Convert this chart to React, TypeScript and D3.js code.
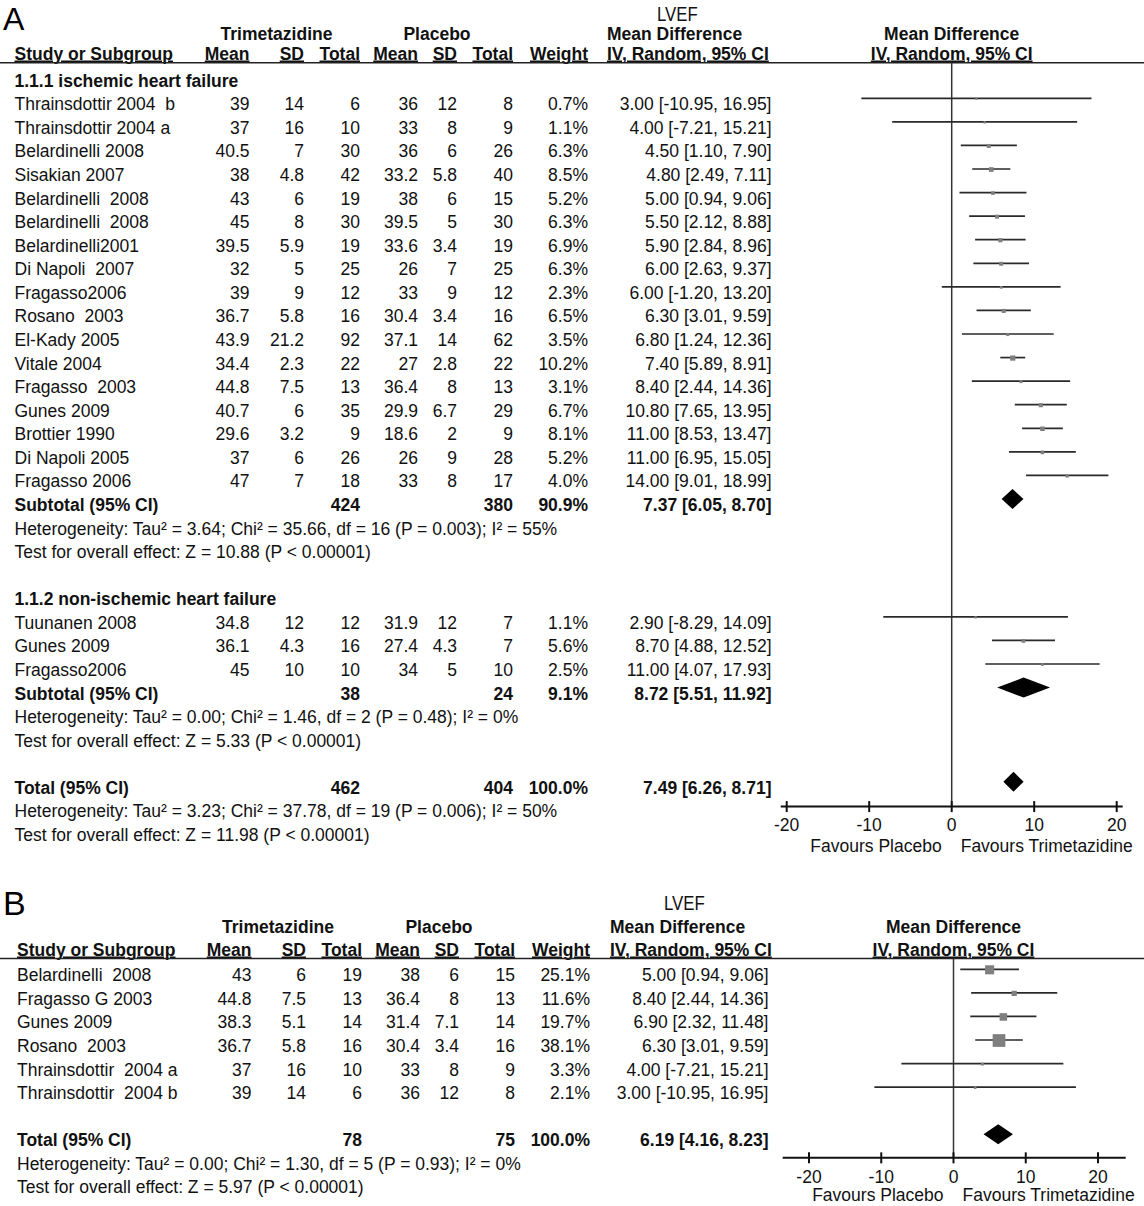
import React from "react";
import * as d3 from "d3";

const FONT = "'Liberation Sans', Arial, Helvetica, sans-serif";

// ---------- Panel A : subgroup 1.1.1 ----------
const A1_TITLE = "1.1.1 ischemic heart failure";
const A1_STUDIES = ["Thrainsdottir 2004  b", "Thrainsdottir 2004 a", "Belardinelli 2008", "Sisakian 2007", "Belardinelli  2008", "Belardinelli  2008", "Belardinelli2001", "Di Napoli  2007", "Fragasso2006", "Rosano  2003", "El-Kady 2005", "Vitale 2004", "Fragasso  2003", "Gunes 2009", "Brottier 1990", "Di Napoli 2005", "Fragasso 2006"];
const A1_T_MEAN = [39, 37, 40.5, 38, 43, 45, 39.5, 32, 39, 36.7, 43.9, 34.4, 44.8, 40.7, 29.6, 37, 47];
const A1_T_SD = [14, 16, 7, 4.8, 6, 8, 5.9, 5, 9, 5.8, 21.2, 2.3, 7.5, 6, 3.2, 6, 7];
const A1_T_N = [6, 10, 30, 42, 19, 30, 19, 25, 12, 16, 92, 22, 13, 35, 9, 26, 18];
const A1_P_MEAN = [36, 33, 36, 33.2, 38, 39.5, 33.6, 26, 33, 30.4, 37.1, 27, 36.4, 29.9, 18.6, 26, 33];
const A1_P_SD = [12, 8, 6, 5.8, 6, 5, 3.4, 7, 9, 3.4, 14, 2.8, 8, 6.7, 2, 9, 8];
const A1_P_N = [8, 9, 26, 40, 15, 30, 19, 25, 12, 16, 62, 22, 13, 29, 9, 28, 17];
const A1_WEIGHT = [0.7, 1.1, 6.3, 8.5, 5.2, 6.3, 6.9, 6.3, 2.3, 6.5, 3.5, 10.2, 3.1, 6.7, 8.1, 5.2, 4.0];
const A1_MD = [3.0, 4.0, 4.5, 4.8, 5.0, 5.5, 5.9, 6.0, 6.0, 6.3, 6.8, 7.4, 8.4, 10.8, 11.0, 11.0, 14.0];
const A1_LO = [-10.95, -7.21, 1.1, 2.49, 0.94, 2.12, 2.84, 2.63, -1.2, 3.01, 1.24, 5.89, 2.44, 7.65, 8.53, 6.95, 9.01];
const A1_HI = [16.95, 15.21, 7.9, 7.11, 9.06, 8.88, 8.96, 9.37, 13.2, 9.59, 12.36, 8.91, 14.36, 13.95, 13.47, 15.05, 18.99];
const A1_SUB = { tN: 424, pN: 380, w: 90.9, md: 7.37, lo: 6.05, hi: 8.7 };
const A1_HET = "Heterogeneity: Tau² = 3.64; Chi² = 35.66, df = 16 (P = 0.003); I² = 55%";
const A1_TEST = "Test for overall effect: Z = 10.88 (P < 0.00001)";

// ---------- Panel A : subgroup 1.1.2 ----------
const A2_TITLE = "1.1.2 non-ischemic heart failure";
const A2_STUDIES = ["Tuunanen 2008", "Gunes 2009", "Fragasso2006"];
const A2_T_MEAN = [34.8, 36.1, 45];
const A2_T_SD = [12, 4.3, 10];
const A2_T_N = [12, 16, 10];
const A2_P_MEAN = [31.9, 27.4, 34];
const A2_P_SD = [12, 4.3, 5];
const A2_P_N = [7, 7, 10];
const A2_WEIGHT = [1.1, 5.6, 2.5];
const A2_MD = [2.9, 8.7, 11.0];
const A2_LO = [-8.29, 4.88, 4.07];
const A2_HI = [14.09, 12.52, 17.93];
const A2_SUB = { tN: 38, pN: 24, w: 9.1, md: 8.72, lo: 5.51, hi: 11.92 };
const A2_HET = "Heterogeneity: Tau² = 0.00; Chi² = 1.46, df = 2 (P = 0.48); I² = 0%";
const A2_TEST = "Test for overall effect: Z = 5.33 (P < 0.00001)";

const A_TOTAL = { tN: 462, pN: 404, w: 100.0, md: 7.49, lo: 6.26, hi: 8.71 };
const A_HET = "Heterogeneity: Tau² = 3.23; Chi² = 37.78, df = 19 (P = 0.006); I² = 50%";
const A_TEST = "Test for overall effect: Z = 11.98 (P < 0.00001)";

// ---------- Panel B ----------
const B_STUDIES = ["Belardinelli  2008", "Fragasso G 2003", "Gunes 2009", "Rosano  2003", "Thrainsdottir  2004 a", "Thrainsdottir  2004 b"];
const B_T_MEAN = [43, 44.8, 38.3, 36.7, 37, 39];
const B_T_SD = [6, 7.5, 5.1, 5.8, 16, 14];
const B_T_N = [19, 13, 14, 16, 10, 6];
const B_P_MEAN = [38, 36.4, 31.4, 30.4, 33, 36];
const B_P_SD = [6, 8, 7.1, 3.4, 8, 12];
const B_P_N = [15, 13, 14, 16, 9, 8];
const B_WEIGHT = [25.1, 11.6, 19.7, 38.1, 3.3, 2.1];
const B_MD = [5.0, 8.4, 6.9, 6.3, 4.0, 3.0];
const B_LO = [0.94, 2.44, 2.32, 3.01, -7.21, -10.95];
const B_HI = [9.06, 14.36, 11.48, 9.59, 15.21, 16.95];
const B_TOTAL = { tN: 78, pN: 75, w: 100.0, md: 6.19, lo: 4.16, hi: 8.23 };
const B_HET = "Heterogeneity: Tau² = 0.00; Chi² = 1.30, df = 5 (P = 0.93); I² = 0%";
const B_TEST = "Test for overall effect: Z = 5.97 (P < 0.00001)";

const AXIS_TICKS = [-20, -10, 0, 10, 20];
const FAV_LEFT = "Favours Placebo";
const FAV_RIGHT = "Favours Trimetazidine";

type Row =
  | { kind: "title"; i: number; text: string }
  | { kind: "text"; i: number; text: string }
  | { kind: "study"; i: number; name: string; tm: number; ts: number; tn: number; pm: number; ps: number; pn: number; w: number; md: number; lo: number; hi: number }
  | { kind: "sum"; i: number; name: string; tn: number; pn: number; w: number; md: number; lo: number; hi: number };

function studies(start: number, names: string[], tm: number[], ts: number[], tn: number[], pm: number[], ps: number[], pn: number[], w: number[], md: number[], lo: number[], hi: number[]): Row[] {
  return names.map((name, k) => ({ kind: "study", i: start + k, name, tm: tm[k], ts: ts[k], tn: tn[k], pm: pm[k], ps: ps[k], pn: pn[k], w: w[k], md: md[k], lo: lo[k], hi: hi[k] }));
}

const ROWS_A: Row[] = [
  { kind: "title", i: -1, text: A1_TITLE },
  ...studies(0, A1_STUDIES, A1_T_MEAN, A1_T_SD, A1_T_N, A1_P_MEAN, A1_P_SD, A1_P_N, A1_WEIGHT, A1_MD, A1_LO, A1_HI),
  { kind: "sum", i: 17, name: "Subtotal (95% CI)", ...A1_SUB, tn: A1_SUB.tN, pn: A1_SUB.pN },
  { kind: "text", i: 18, text: A1_HET },
  { kind: "text", i: 19, text: A1_TEST },
  { kind: "title", i: 21, text: A2_TITLE },
  ...studies(22, A2_STUDIES, A2_T_MEAN, A2_T_SD, A2_T_N, A2_P_MEAN, A2_P_SD, A2_P_N, A2_WEIGHT, A2_MD, A2_LO, A2_HI),
  { kind: "sum", i: 25, name: "Subtotal (95% CI)", ...A2_SUB, tn: A2_SUB.tN, pn: A2_SUB.pN },
  { kind: "text", i: 26, text: A2_HET },
  { kind: "text", i: 27, text: A2_TEST },
  { kind: "sum", i: 29, name: "Total (95% CI)", ...A_TOTAL, tn: A_TOTAL.tN, pn: A_TOTAL.pN },
  { kind: "text", i: 30, text: A_HET },
  { kind: "text", i: 31, text: A_TEST },
] as Row[];

const ROWS_B: Row[] = [
  ...studies(0, B_STUDIES, B_T_MEAN, B_T_SD, B_T_N, B_P_MEAN, B_P_SD, B_P_N, B_WEIGHT, B_MD, B_LO, B_HI),
  { kind: "sum", i: 7, name: "Total (95% CI)", ...B_TOTAL, tn: B_TOTAL.tN, pn: B_TOTAL.pN },
  { kind: "text", i: 8, text: B_HET },
  { kind: "text", i: 9, text: B_TEST },
] as Row[];

const fmtCI = (md: number, lo: number, hi: number) => `${md.toFixed(2)} [${lo.toFixed(2)}, ${hi.toFixed(2)}]`;
const fmtW = (w: number) => `${w.toFixed(1)}%`;

type Layout = {
  letter: string; letterX: number; letterBase: number; letterSize: number;
  lvefX: number; lvefBase: number;
  h1Base: number; h2Base: number; lineY: number;
  studyX: number; dx: number; ciRight: number; mdHeadX: number;
  trimX: number; placX: number;
  y0: number; step: number;
  x: d3.ScaleLinear<number, number>; axisExt: [number, number];
  axisIdx: number; tickDy: number; favDy: number;
  size: d3.ScaleLinear<number, number>;
  zeroTopY: number;
};

const COLS = { tm: 249.5, ts: 304, tn: 360, pm: 418, ps: 457, pn: 513, w: 588 };

function Panel({ rows, L }: { rows: Row[]; L: Layout }) {
  const y = (i: number) => L.y0 + L.step * i;
  const c = (k: keyof typeof COLS) => COLS[k] + L.dx;
  const x0 = L.x(0);
  const axisY = y(L.axisIdx);
  const base = (i: number) => y(i) + 12;
  const txt = { fontFamily: FONT, fontSize: 17.5, fill: "#111", whiteSpace: "pre" as const };
  const bold = { ...txt, fontWeight: 700 };
  const hdr2 = { ...bold, textDecoration: "underline" };
  return (
    <g>
      <text x={L.letterX} y={L.letterBase} style={{ fontFamily: FONT, fontSize: L.letterSize, fill: "#000" }}>{L.letter}</text>
      <text transform={`translate(${L.lvefX},${L.lvefBase}) scale(0.82,1)`} style={{ fontFamily: FONT, fontSize: 20.5, fill: "#111" }}>LVEF</text>
      {/* header row 1 */}
      <text x={L.trimX} y={L.h1Base} textAnchor="middle" style={bold}>Trimetazidine</text>
      <text x={L.placX} y={L.h1Base} textAnchor="middle" style={bold}>Placebo</text>
      <text x={L.mdHeadX} y={L.h1Base} style={bold}>Mean Difference</text>
      <text x={x0} y={L.h1Base} textAnchor="middle" style={bold}>Mean Difference</text>
      {/* header row 2 */}
      <text x={L.studyX} y={L.h2Base} style={hdr2}>Study or Subgroup</text>
      <text x={c("tm")} y={L.h2Base} textAnchor="end" style={hdr2}>Mean</text>
      <text x={c("ts")} y={L.h2Base} textAnchor="end" style={hdr2}>SD</text>
      <text x={c("tn")} y={L.h2Base} textAnchor="end" style={hdr2}>Total</text>
      <text x={c("pm")} y={L.h2Base} textAnchor="end" style={hdr2}>Mean</text>
      <text x={c("ps")} y={L.h2Base} textAnchor="end" style={hdr2}>SD</text>
      <text x={c("pn")} y={L.h2Base} textAnchor="end" style={hdr2}>Total</text>
      <text x={c("w")} y={L.h2Base} textAnchor="end" style={hdr2}>Weight</text>
      <text x={L.mdHeadX} y={L.h2Base} style={hdr2}>IV, Random, 95% CI</text>
      <text x={x0} y={L.h2Base} textAnchor="middle" style={hdr2}>IV, Random, 95% CI</text>
      <line x1={0} x2={1144} y1={L.lineY} y2={L.lineY} stroke="#222" strokeWidth={1.6} />
      {/* zero line */}
      <line x1={x0} x2={x0} y1={L.zeroTopY} y2={axisY} stroke="#333" strokeWidth={1.5} />
      {rows.map((r, k) => {
        if (r.kind === "title") return <text key={k} x={L.studyX} y={base(r.i)} style={bold}>{r.text}</text>;
        if (r.kind === "text") return <text key={k} x={L.studyX} y={base(r.i)} style={txt}>{r.text}</text>;
        if (r.kind === "study") {
          const s = L.size(r.w);
          return (
            <g key={k}>
              <text x={L.studyX} y={base(r.i)} style={txt}>{r.name}</text>
              <text x={c("tm")} y={base(r.i)} textAnchor="end" style={txt}>{String(r.tm)}</text>
              <text x={c("ts")} y={base(r.i)} textAnchor="end" style={txt}>{String(r.ts)}</text>
              <text x={c("tn")} y={base(r.i)} textAnchor="end" style={txt}>{String(r.tn)}</text>
              <text x={c("pm")} y={base(r.i)} textAnchor="end" style={txt}>{String(r.pm)}</text>
              <text x={c("ps")} y={base(r.i)} textAnchor="end" style={txt}>{String(r.ps)}</text>
              <text x={c("pn")} y={base(r.i)} textAnchor="end" style={txt}>{String(r.pn)}</text>
              <text x={c("w")} y={base(r.i)} textAnchor="end" style={txt}>{fmtW(r.w)}</text>
              <text x={L.ciRight} y={base(r.i)} textAnchor="end" style={txt}>{fmtCI(r.md, r.lo, r.hi)}</text>
              <line x1={L.x(r.lo)} x2={L.x(r.hi)} y1={y(r.i)} y2={y(r.i)} stroke="#2a2a2a" strokeWidth={1.7} />
              <rect x={L.x(r.md) - s / 2} y={y(r.i) - s / 2 + 0.5} width={s} height={s} fill="#7f7f7f" />
            </g>
          );
        }
        const yy = y(r.i);
        const pts = [[L.x(r.lo), yy], [L.x(r.md), yy - 10], [L.x(r.hi), yy], [L.x(r.md), yy + 10]];
        return (
          <g key={k}>
            <text x={L.studyX} y={base(r.i)} style={bold}>{r.name}</text>
            <text x={c("tn")} y={base(r.i)} textAnchor="end" style={bold}>{String(r.tn)}</text>
            <text x={c("pn")} y={base(r.i)} textAnchor="end" style={bold}>{String(r.pn)}</text>
            <text x={c("w")} y={base(r.i)} textAnchor="end" style={bold}>{fmtW(r.w)}</text>
            <text x={L.ciRight} y={base(r.i)} textAnchor="end" style={bold}>{fmtCI(r.md, r.lo, r.hi)}</text>
            <polygon points={pts.map((p) => p.join(",")).join(" ")} fill="#000" />
          </g>
        );
      })}
      {/* axis */}
      <line x1={L.axisExt[0]} x2={L.axisExt[1]} y1={axisY} y2={axisY} stroke="#111" strokeWidth={2} />
      {AXIS_TICKS.map((t) => (
        <g key={t}>
          <line x1={L.x(t)} x2={L.x(t)} y1={axisY - 5.5} y2={axisY + 5.5} stroke="#111" strokeWidth={2} />
          <text x={L.x(t)} y={axisY + L.tickDy} textAnchor="middle" style={txt}>{String(t)}</text>
        </g>
      ))}
      <text x={x0 - 10} y={axisY + L.favDy} textAnchor="end" style={txt}>{FAV_LEFT}</text>
      <text x={x0 + 9} y={axisY + L.favDy} style={txt}>{FAV_RIGHT}</text>
    </g>
  );
}

const xA = d3.scaleLinear().domain([-20, 20]).range([786.7, 1116.7]);
const xB = d3.scaleLinear().domain([-20, 20]).range([809, 1098]);

const LAYOUT_A: Layout = {
  letter: "A", letterX: 3, letterBase: 30, letterSize: 32,
  lvefX: 657, lvefBase: 20.5,
  h1Base: 39.5, h2Base: 59.5, lineY: 62.7,
  studyX: 14.5, dx: 0, ciRight: 771.5, mdHeadX: 607,
  trimX: 276.5, placX: 437,
  y0: 98.3, step: 23.57,
  x: xA, axisExt: [780.7, 1122.7],
  axisIdx: 30.05, tickDy: 24.8, favDy: 45.5,
  size: d3.scaleLinear().domain([0, d3.max([...A1_WEIGHT, ...A2_WEIGHT]) as number]).range([2, 5.2]),
  zeroTopY: 62.7,
};

const LAYOUT_B: Layout = {
  letter: "B", letterX: 3, letterBase: 915, letterSize: 34,
  lvefX: 664, lvefBase: 910,
  h1Base: 933, h2Base: 955.5, lineY: 958.5,
  studyX: 17, dx: 2, ciRight: 768.5, mdHeadX: 610,
  trimX: 278, placX: 439,
  y0: 969.3, step: 23.57,
  x: xB, axisExt: [782.7, 1125.7],
  axisIdx: 8, tickDy: 24.8, favDy: 43,
  size: d3.scaleLinear().domain([0, d3.max(B_WEIGHT) as number]).range([2, 12.7]),
  zeroTopY: 958.5,
};

export default function App() {
  return (
    <svg width={1144} height={1206} viewBox="0 0 1144 1206" style={{ position: "absolute", left: 0, top: 0, background: "#fff" }}>
      <rect x={0} y={0} width={1144} height={1206} fill="#fff" />
      <Panel rows={ROWS_A} L={LAYOUT_A} />
      <Panel rows={ROWS_B} L={LAYOUT_B} />
    </svg>
  );
}
